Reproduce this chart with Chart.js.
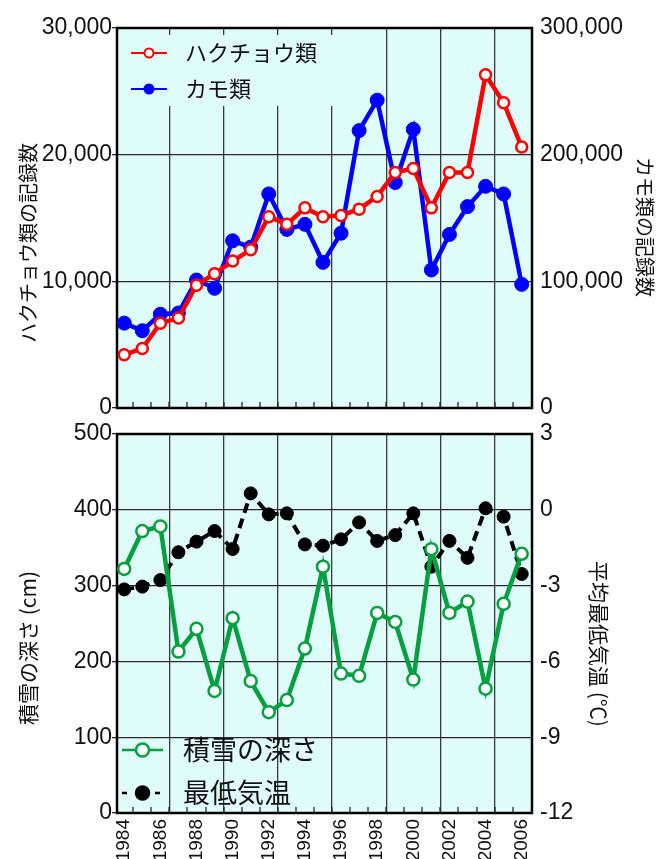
<!DOCTYPE html>
<html>
<head>
<meta charset="utf-8">
<script src="https://cdn.jsdelivr.net/npm/chart.js@4.4.0/dist/chart.umd.min.js"></script>
<style>
  body { margin: 0; background: #fff; }
  #wrap { position: relative; width: 667px; height: 859px; overflow: hidden; }
  canvas { position: absolute; left: 0; }
  #birds { top: 0; }
  #weather { top: 420px; }
</style>
</head>
<body>
<div id="wrap">
  <canvas id="birds" width="667" height="424"></canvas>
  <canvas id="weather" width="667" height="439"></canvas>
</div>
<script>
// survey years and yearly records
const years = [1984, 1985, 1986, 1987, 1988, 1989, 1990, 1991, 1992, 1993, 1994, 1995,
               1996, 1997, 1998, 1999, 2000, 2001, 2002, 2003, 2004, 2005, 2006];
const yearLabels = [1984, 1986, 1988, 1990, 1992, 1994, 1996, 1998, 2000, 2002, 2004, 2006];

const swanCounts = [4200, 4700, 6700, 7100, 9700, 10600, 11600, 12500, 15100, 14500, 15800, 15100,
                    15200, 15700, 16700, 18600, 18900, 15800, 18600, 18600, 26300, 24100, 20600];
const duckCounts = [67000, 61000, 74000, 75000, 101000, 94500, 132000, 127000, 169000, 141000, 145000, 115000,
                    138000, 219000, 243000, 178000, 220000, 109000, 137000, 159000, 175000, 169000, 97600];
const snowDepth = [322, 372, 378, 213, 243, 161, 257, 174, 133, 149, 217, 325,
                   184, 181, 264, 252, 176, 348, 264, 279, 164, 276, 342];
const minTemp = [-3.15, -3.04, -2.78, -1.68, -1.26, -0.84, -1.55, 0.65, -0.18, -0.14, -1.37, -1.42,
                 -1.17, -0.5, -1.23, -1.0, -0.14, -2.25, -1.23, -1.9, 0.06, -0.27, -2.54];

const swanTicks = [0, 10000, 20000, 30000];
const duckTicks = [0, 100000, 200000, 300000];
const snowTicks = [0, 100, 200, 300, 400, 500];
const tempTicks = [-12, -9, -6, -3, 0, 3];

const X_MIN = 1983.6, X_MAX = 2006.57;
const PLOT_BG = '#dffbfa';
const GRID = '#2a2a2a';
const TICK_FONT = { family: "'Liberation Sans', Arial, sans-serif", size: 23 };
const YEAR_FONT = { family: "'Liberation Sans', Arial, sans-serif", size: 19 };
const JP = '"Noto Sans CJK JP", sans-serif';

const pts = vals => vals.map((v, i) => ({ x: years[i], y: v }));
const useTicks = list => scale => { scale.ticks = list.map(v => ({ value: v })); };
const fixHeight = h => scale => { scale.height = h; };
// fixed axis width; the edge labels may hang over the plot margins
const fixWidth = w => scale => {
  scale.width = w;
  scale.paddingTop = 0;
  scale.paddingBottom = 0;
};

// plot background, inner year ticks and the frame
const plotArea = {
  id: 'plotArea',
  beforeDraw(chart) {
    const { ctx, chartArea: a } = chart;
    ctx.save();
    ctx.fillStyle = PLOT_BG;
    ctx.fillRect(a.left, a.top, a.width, a.height);
    ctx.restore();
  },
  beforeDatasetsDraw(chart, args, opts) {
    const { ctx, chartArea: a, scales: { x } } = chart;
    ctx.save();
    if (opts.patch) {
      ctx.fillStyle = PLOT_BG;
      ctx.fillRect(...opts.patch);
    }
    ctx.strokeStyle = GRID;
    ctx.lineWidth = 1.3;
    ctx.beginPath();
    years.forEach(yr => {
      const px = Math.round(x.getPixelForValue(yr + 0.5));
      if (px < a.right - 2) {
        ctx.moveTo(px, a.bottom);
        ctx.lineTo(px, a.bottom - 6);
      }
    });
    ctx.stroke();
    ctx.lineWidth = 2.5;
    ctx.strokeStyle = '#000';
    ctx.strokeRect(a.left, a.top, a.width, a.height);
    ctx.restore();
  }
};

// rotated axis titles
const axisTitles = {
  id: 'axisTitles',
  afterDraw(chart, args, opts) {
    const ctx = chart.ctx;
    (opts.items || []).forEach(t => {
      ctx.save();
      ctx.translate(t.x, t.y);
      ctx.rotate(t.rot * Math.PI / 180);
      ctx.font = t.font;
      ctx.fillStyle = '#111';
      ctx.textAlign = 'center';
      ctx.textBaseline = 'middle';
      ctx.fillText(t.text, 0, 0);
      ctx.restore();
    });
  }
};

// legend drawn inside the plot, one row per dataset
const boxLegend = {
  id: 'boxLegend',
  afterDatasetsDraw(chart, args, o) {
    const ctx = chart.ctx;
    chart.data.datasets.forEach((ds, i) => {
      const y = o.y + i * o.gap;
      const cx = o.x + o.len / 2;
      ctx.save();
      ctx.strokeStyle = ds.borderColor;
      ctx.lineWidth = o.lineWidth;
      ctx.setLineDash(ds.borderDash ? o.dash : []);
      ctx.beginPath();
      ctx.moveTo(o.x, y);
      ctx.lineTo(o.x + o.len, y);
      ctx.stroke();
      ctx.setLineDash([]);
      ctx.beginPath();
      ctx.arc(cx, y, o.r, 0, Math.PI * 2);
      ctx.fillStyle = ds.pointBackgroundColor;
      ctx.fill();
      ctx.lineWidth = o.markerBorder;
      ctx.strokeStyle = ds.pointBorderColor;
      ctx.stroke();
      ctx.font = o.font;
      ctx.fillStyle = '#111';
      ctx.textAlign = 'left';
      ctx.textBaseline = 'middle';
      ctx.fillText(ds.label, o.textX, y);
      ctx.restore();
    });
  }
};

function yearAxis(showLabels, height) {
  return {
    type: 'linear', min: X_MIN, max: X_MAX,
    afterBuildTicks: useTicks(years),
    afterFit: fixHeight(height),
    ticks: {
      display: showLabels, font: YEAR_FONT, color: '#111', padding: 6,
      minRotation: 90, maxRotation: 90, autoSkip: false,
      callback: v => yearLabels.includes(v) ? String(v) : ''
    },
    grid: {
      offset: true, drawTicks: false, lineWidth: 1.3,
      color: c => (c.index > 0 && c.index % 3 === 0) ? '#3a3a3a' : 'transparent'
    },
    border: { display: false }
  };
}

function valueAxis(side, min, max, list, fmt) {
  const left = side === 'left';
  return {
    position: side, min, max,
    afterBuildTicks: useTicks(list),
    afterFit: fixWidth(left ? 117 : 135),
    ticks: { font: TICK_FONT, color: '#111', padding: left ? 0 : 8, callback: fmt },
    grid: left
      ? { color: GRID, lineWidth: 1.3, tickLength: 5 }
      : { drawOnChartArea: false, drawTicks: false },
    border: { display: false }
  };
}

const commas = v => v.toLocaleString('en-US');

new Chart(document.getElementById('birds'), {
  type: 'line',
  data: {
    datasets: [
      {
        label: 'ハクチョウ類', data: pts(swanCounts), yAxisID: 'y',
        borderColor: '#ff0000', borderWidth: 4.5,
        pointRadius: 5.5, pointBorderWidth: 2.5,
        pointBackgroundColor: '#ffffff', pointBorderColor: '#ff0000'
      },
      {
        label: 'カモ類', data: pts(duckCounts), yAxisID: 'y2',
        borderColor: '#0000ff', borderWidth: 4.5,
        pointRadius: 7, pointBorderWidth: 1,
        pointBackgroundColor: '#0000ff', pointBorderColor: '#0000ff'
      }
    ]
  },
  options: {
    responsive: false, animation: false,
    layout: { padding: { top: 28, bottom: 16, left: 0, right: 0 } },
    scales: {
      x: yearAxis(false, 0),
      y: valueAxis('left', 0, 30000, swanTicks, commas),
      y2: valueAxis('right', 0, 300000, duckTicks, commas)
    },
    plugins: {
      legend: { display: false },
      tooltip: { enabled: false },
      plotArea: { patch: [119, 35, 262, 71] },
      boxLegend: {
        x: 131, len: 36, y: 53, gap: 36, lineWidth: 2, r: 4.5, markerBorder: 2,
        textX: 185, font: '22px ' + JP, dash: []
      },
      axisTitles: {
        items: [
          { text: 'ハクチョウ類の記録数', x: 28, y: 243, rot: -90, font: '20px ' + JP },
          { text: 'カモ類の記録数', x: 645, y: 227, rot: 90, font: '20px ' + JP }
        ]
      }
    }
  },
  plugins: [plotArea, boxLegend, axisTitles]
});

new Chart(document.getElementById('weather'), {
  type: 'line',
  data: {
    datasets: [
      {
        label: '積雪の深さ', data: pts(snowDepth), yAxisID: 'y',
        borderColor: '#00a040', borderWidth: 4.5,
        pointRadius: 6, pointBorderWidth: 2.5,
        pointBackgroundColor: '#ffffff', pointBorderColor: '#00a040'
      },
      {
        label: '最低気温', data: pts(minTemp), yAxisID: 'y2',
        borderColor: '#000000', borderWidth: 4, borderDash: [10, 6],
        pointRadius: 6.5, pointBorderWidth: 1,
        pointBackgroundColor: '#000000', pointBorderColor: '#000000'
      }
    ]
  },
  options: {
    responsive: false, animation: false,
    layout: { padding: { top: 14, bottom: 0, left: 0, right: 0 } },
    scales: {
      x: yearAxis(true, 46),
      y: valueAxis('left', 0, 500, snowTicks, v => String(v)),
      y2: valueAxis('right', -12, 3, tempTicks, v => String(v))
    },
    plugins: {
      legend: { display: false },
      tooltip: { enabled: false },
      plotArea: {},
      boxLegend: {
        x: 122, len: 41, y: 330, gap: 43, lineWidth: 2.5, r: 6.5, markerBorder: 2.5,
        textX: 183, font: '27px ' + JP, dash: [5, 28]
      },
      axisTitles: {
        items: [
          { text: '積雪の深さ (cm)', x: 28, y: 228, rot: -90, font: '21px ' + JP },
          { text: '平均最低気温 (℃)', x: 599, y: 224, rot: 90, font: '21px ' + JP }
        ]
      }
    }
  },
  plugins: [plotArea, boxLegend, axisTitles]
});
</script>
</body>
</html>
